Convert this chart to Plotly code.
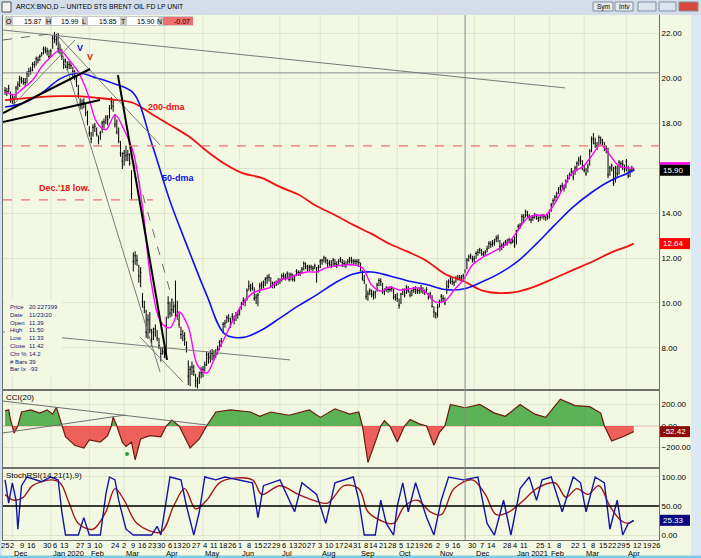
import pandas as pd
import plotly.graph_objects as go
from plotly.subplots import make_subplots

FONT = "Liberation Sans, Arial, sans-serif"
BG = "#F3F8E3"
GRID = "#DEE7CE"

holidays = ["2019-11-28", "2019-12-25", "2020-01-01", "2020-01-20", "2020-02-17",
            "2020-04-10", "2020-05-25", "2020-07-03", "2020-09-07", "2020-11-26",
            "2020-12-25", "2021-01-01", "2021-01-18", "2021-02-15", "2021-04-02"]

# daily bars, BNO, 2019-11-25 .. 2021-04-08 (one row per week)
close = [
    19.45, 19.40, 19.55, 19.00,
    19.10, 19.05, 19.55, 19.70, 19.95,
    19.90, 19.85, 19.80, 20.20, 20.30,
    20.35, 20.60, 20.60, 20.85, 20.80,
    20.95, 21.10, 21.30, 21.25,
    21.20, 20.95, 21.20, 21.75,
    21.85, 21.70, 21.30, 21.25, 20.95,
    20.60, 20.70, 20.50, 20.60, 20.55,
    20.30, 20.05, 19.85, 19.30,
    18.80, 18.85, 18.90, 18.45, 18.05,
    17.55, 17.30, 17.80, 17.85, 17.50,
    17.20, 17.55, 18.00, 18.05, 18.25,
    18.15, 18.65, 18.95, 18.75,
    17.95, 17.60, 17.20, 16.65, 16.30,
    16.65, 16.55, 16.60, 16.20, 14.85,
    11.85, 12.10, 11.90, 11.20, 11.35,
    10.05, 9.80, 8.70, 9.25, 8.80,
    8.40, 8.70, 8.85, 8.45, 8.10,
    7.75, 7.85,
    7.80, 9.00, 10.00,
    9.55, 9.70, 9.85, 9.45,
    9.60, 9.05, 8.60, 8.55, 8.40,
    8.00, 6.75, 7.05, 7.15, 6.95,
    6.55, 6.45, 6.75, 6.90, 7.05,
    7.25, 7.70, 7.55, 7.60, 7.75,
    7.65, 7.80, 7.95, 8.25, 8.30,
    9.05, 9.10, 9.35, 9.30, 9.05,
    9.40, 9.25, 9.45, 9.50,
    9.70, 9.95, 10.10, 10.05, 10.55,
    10.75, 10.65, 10.75, 10.20, 10.25,
    10.35, 10.75, 10.80, 10.90, 11.05,
    11.10, 11.15, 10.75, 10.90, 10.80,
    10.90, 10.95, 11.00, 11.20,
    11.20, 11.15, 11.30, 11.05, 11.25,
    11.05, 11.20, 11.40, 11.35, 11.35,
    11.50, 11.75, 11.65, 11.55, 11.60,
    11.60, 11.55, 11.65, 11.40, 11.60,
    11.85, 11.90, 12.00, 11.90, 11.75,
    11.80, 11.70, 11.90, 11.75, 11.70,
    11.85, 11.95, 11.80, 11.75, 11.70,
    11.85, 11.95, 11.90, 11.85, 11.85,
    11.85, 11.80, 11.45, 11.10, 11.00,
    10.30, 10.40, 10.55, 10.40,
    10.35, 10.45, 10.80, 11.00, 10.95,
    10.50, 10.55, 10.65, 10.60, 10.60,
    10.65, 10.25, 10.30, 10.20, 9.90,
    10.40, 10.60, 10.35, 10.70, 10.55,
    10.35, 10.55, 10.60, 10.60, 10.55,
    10.55, 10.65, 10.55, 10.50, 10.60,
    10.25, 10.40, 9.85, 9.60, 9.50,
    9.80, 10.05, 10.30, 10.20, 10.00,
    10.75, 10.95, 11.10, 10.95, 10.90,
    11.10, 11.10, 11.15, 11.10, 11.20,
    11.42, 11.90, 12.05, 12.10, 11.95,
    11.95, 12.20, 12.25, 12.35,
    12.20, 12.15, 12.25, 12.40, 12.65,
    12.60, 12.65, 12.70, 12.85, 12.90,
    12.50, 12.55, 12.60, 12.70,
    12.65, 12.80, 12.70, 12.75,
    12.55, 13.20, 13.40, 13.45, 13.85,
    13.80, 14.05, 13.90, 13.85, 13.70,
    13.80, 13.90, 13.85, 13.75,
    13.80, 13.90, 13.85, 13.80, 13.85,
    14.05, 14.35, 14.55, 14.70, 14.85,
    15.05, 15.15, 15.20, 15.10, 15.40,
    15.55, 15.70, 15.85, 15.60,
    16.00, 16.20, 16.35, 16.30, 16.00,
    15.90, 15.75, 16.05, 16.75, 17.25,
    17.30, 17.10, 17.00, 17.35, 17.25,
    17.15, 16.95, 16.85, 15.70, 16.00,
    16.10, 15.30, 16.00, 15.75, 16.25,
    16.20, 16.15, 15.95,
    16.30, 15.65, 15.90, 15.97, 15.90,
]
high = [
    19.60, 19.55, 19.70, 19.40,
    19.30, 19.20, 19.65, 19.85, 20.10,
    20.05, 20.00, 20.00, 20.30, 20.45,
    20.50, 20.70, 20.75, 20.95, 20.95,
    21.05, 21.15, 21.40, 21.40,
    21.35, 21.25, 21.30, 21.90,
    22.05, 21.95, 22.00, 21.50, 21.30,
    20.85, 20.85, 20.75, 20.75, 20.70,
    20.50, 20.35, 20.10, 19.70,
    19.10, 19.05, 19.10, 18.85, 18.55,
    17.85, 17.60, 17.95, 18.00, 17.80,
    17.45, 17.65, 18.10, 18.20, 18.35,
    18.35, 18.80, 19.15, 19.00,
    18.40, 18.15, 17.80, 17.20, 16.70,
    16.80, 17.00, 16.80, 16.65, 15.90,
    12.25, 12.30, 12.15, 11.70, 11.60,
    10.45, 10.10, 9.70, 9.50, 9.60,
    8.85, 8.90, 9.05, 8.80, 8.45,
    8.05, 8.05,
    8.00, 9.40, 10.30,
    10.05, 10.20, 10.05, 11.00,
    10.10, 9.55, 8.95, 8.80, 8.70,
    8.30, 7.45, 7.20, 7.40, 7.25,
    6.85, 6.70, 6.95, 7.15, 7.20,
    7.40, 7.85, 7.80, 7.90, 7.95,
    7.90, 7.95, 8.10, 8.35, 8.45,
    9.15, 9.25, 9.45, 9.50, 9.35,
    9.55, 9.45, 9.60, 9.65,
    9.80, 10.05, 10.25, 10.20, 10.65,
    11.00, 10.85, 10.90, 10.70, 10.40,
    10.45, 10.90, 10.95, 11.00, 11.15,
    11.25, 11.30, 11.15, 10.95, 10.95,
    11.00, 11.10, 11.10, 11.30,
    11.35, 11.30, 11.40, 11.35, 11.35,
    11.30, 11.25, 11.50, 11.45, 11.45,
    11.60, 11.85, 11.80, 11.70, 11.70,
    11.70, 11.65, 11.75, 11.60, 11.70,
    11.95, 11.95, 12.10, 12.05, 11.95,
    11.90, 11.90, 12.00, 11.95, 11.85,
    11.95, 12.05, 11.95, 11.90, 11.85,
    11.95, 12.05, 12.05, 11.95, 11.95,
    11.95, 11.95, 11.80, 11.45, 11.25,
    10.85, 10.55, 10.65, 10.60,
    10.55, 10.55, 10.90, 11.10, 11.10,
    10.90, 10.65, 10.75, 10.70, 10.70,
    10.75, 10.65, 10.40, 10.45, 10.20,
    10.45, 10.65, 10.65, 10.80, 10.75,
    10.55, 10.60, 10.70, 10.75, 10.65,
    10.70, 10.80, 10.70, 10.60, 10.70,
    10.45, 10.50, 10.35, 9.85, 9.60,
    9.95, 10.15, 10.40, 10.35, 10.25,
    11.00, 11.05, 11.20, 11.10, 11.00,
    11.20, 11.25, 11.25, 11.25, 11.30,
    11.50, 12.00, 12.15, 12.20, 12.10,
    12.10, 12.30, 12.40, 12.45,
    12.40, 12.30, 12.35, 12.55, 12.75,
    12.75, 12.80, 12.85, 13.00, 13.05,
    12.80, 12.65, 12.70, 12.80,
    12.85, 12.90, 12.85, 12.85,
    12.95, 13.25, 13.50, 13.55, 13.95,
    13.95, 14.15, 14.10, 13.95, 13.85,
    13.90, 14.00, 13.95, 13.85,
    13.90, 13.95, 13.95, 13.90, 13.95,
    14.15, 14.45, 14.65, 14.80, 14.95,
    15.15, 15.25, 15.35, 15.25, 15.50,
    15.70, 15.80, 16.00, 15.90,
    16.10, 16.30, 16.50, 16.55, 16.35,
    16.15, 16.00, 16.20, 16.85, 17.40,
    17.55, 17.35, 17.15, 17.45, 17.40,
    17.30, 17.15, 17.00, 16.90, 16.10,
    16.20, 16.05, 16.10, 16.10, 16.35,
    16.30, 16.35, 16.15,
    16.40, 16.10, 15.95, 16.10, 15.99,
]
low = [
    19.25, 19.20, 19.35, 18.90,
    18.85, 18.80, 19.10, 19.45, 19.60,
    19.75, 19.70, 19.60, 19.75, 20.05,
    20.15, 20.30, 20.45, 20.55, 20.65,
    20.75, 20.95, 21.05, 21.10,
    21.00, 20.85, 20.95, 21.30,
    21.55, 21.45, 21.10, 21.05, 20.80,
    20.40, 20.45, 20.35, 20.40, 20.40,
    20.00, 19.90, 19.60, 19.10,
    18.60, 18.60, 18.65, 18.30, 17.90,
    17.40, 17.10, 17.40, 17.60, 17.40,
    17.05, 17.25, 17.55, 17.75, 17.95,
    17.90, 18.20, 18.60, 18.50,
    17.80, 17.50, 17.10, 16.50, 15.95,
    16.10, 16.30, 16.30, 16.10, 14.60,
    11.40, 11.70, 11.65, 10.90, 10.70,
    9.80, 9.55, 8.45, 8.40, 8.65,
    8.05, 8.35, 8.50, 8.30, 7.95,
    7.40, 7.70,
    7.55, 7.55, 9.30,
    9.35, 9.40, 9.55, 9.30,
    9.25, 8.90, 8.40, 8.30, 8.10,
    7.80, 6.35, 6.30, 6.80, 6.75,
    6.25, 6.20, 6.40, 6.65, 6.70,
    6.95, 7.20, 7.30, 7.35, 7.45,
    7.45, 7.55, 7.70, 7.90, 8.05,
    8.65, 8.90, 9.10, 9.15, 8.90,
    9.15, 9.05, 9.20, 9.30,
    9.45, 9.70, 9.90, 9.85, 10.10,
    10.55, 10.50, 10.55, 10.10, 9.95,
    9.85, 10.45, 10.60, 10.65, 10.75,
    10.85, 10.95, 10.70, 10.65, 10.65,
    10.75, 10.80, 10.85, 10.95,
    11.05, 11.00, 11.10, 10.95, 11.00,
    10.95, 10.95, 11.20, 11.20, 11.20,
    11.30, 11.45, 11.50, 11.40, 11.40,
    11.45, 11.40, 11.50, 10.90, 11.35,
    11.55, 11.70, 11.80, 11.75, 11.60,
    11.65, 11.55, 11.65, 11.60, 11.55,
    11.70, 11.80, 11.60, 11.60, 11.55,
    11.70, 11.75, 11.75, 11.70, 11.70,
    11.70, 11.60, 11.40, 11.00, 10.85,
    10.15, 10.10, 10.35, 10.25,
    10.15, 10.20, 10.50, 10.75, 10.75,
    10.40, 10.35, 10.50, 10.45, 10.50,
    10.50, 10.15, 10.10, 10.05, 9.75,
    9.95, 10.35, 10.25, 10.40, 10.45,
    10.25, 10.30, 10.45, 10.40, 10.40,
    10.40, 10.45, 10.40, 10.35, 10.45,
    10.15, 10.20, 9.80, 9.35, 9.30,
    9.35, 9.80, 10.00, 10.05, 9.90,
    10.40, 10.65, 10.85, 10.80, 10.75,
    10.90, 11.00, 11.00, 11.00, 11.05,
    11.33, 11.50, 11.85, 11.95, 11.80,
    11.80, 11.95, 12.10, 12.20,
    12.10, 12.05, 12.10, 12.25, 12.40,
    12.45, 12.50, 12.55, 12.70, 12.70,
    12.30, 12.35, 12.45, 12.55,
    12.55, 12.65, 12.60, 12.65,
    12.45, 12.60, 13.20, 13.30, 13.50,
    13.55, 13.80, 13.80, 13.65, 13.55,
    13.65, 13.75, 13.70, 13.60,
    13.65, 13.75, 13.70, 13.65, 13.70,
    13.75, 14.05, 14.35, 14.50, 14.65,
    14.85, 14.95, 15.05, 14.95, 15.10,
    15.35, 15.50, 15.65, 15.45,
    15.70, 15.85, 16.10, 16.15, 15.90,
    15.80, 15.65, 15.80, 16.10, 16.70,
    17.05, 16.90, 16.80, 17.00, 17.05,
    16.95, 16.75, 16.65, 15.55, 15.65,
    15.85, 15.20, 15.35, 15.55, 15.70,
    16.00, 15.90, 15.80,
    15.85, 15.55, 15.60, 15.80, 15.85,
]

# moving averages: (bar number, value)
ma_fast_bar = [0, 5, 10, 15, 20, 25, 30, 35, 40, 45, 50, 55, 60, 65, 70, 75, 80, 85, 90,
               95, 100, 105, 110, 115, 120, 125, 130, 135, 140, 145, 150, 155, 160, 165,
               170, 175, 180, 185, 190, 195, 200, 205, 210, 215, 220, 225, 230, 235, 240,
               245, 250, 255, 260, 265, 270, 275, 280, 285, 290, 295, 300, 305, 310, 315,
               320, 325, 330, 335, 340, 343]
ma_fast = [19.40, 19.25, 19.55, 19.90, 20.50, 20.93, 21.24, 20.80, 20.27, 19.33, 18.04,
           17.70, 18.36, 17.69, 16.70, 14.27, 10.80, 9.16, 8.90, 9.60, 8.93, 7.24, 6.89,
           7.69, 8.49, 9.33, 10.00, 10.44, 10.58, 10.71, 11.02, 11.11, 11.29, 11.38,
           11.38, 11.56, 11.64, 11.69, 11.69, 11.56, 10.80, 10.53, 10.71, 10.58, 10.62,
           10.67, 10.44, 10.04, 10.09, 10.58, 11.02, 11.69, 12.00, 12.22, 12.44, 12.71,
           13.24, 13.78, 13.91, 13.91, 14.44, 15.20, 15.82, 16.04, 16.53, 17.02, 16.58,
           16.09, 16.00, 16.00]
ma50_bar = [0, 10, 20, 30, 40, 50, 60, 70, 80, 90, 100, 110, 120, 130, 140, 150, 160, 170,
            180, 190, 200, 210, 220, 230, 240, 250, 260, 270, 280, 290, 300, 310, 320, 330,
            340, 343]
ma50 = [18.71, 18.89, 19.33, 19.96, 20.22, 20.00, 19.73, 19.33, 17.10, 14.53, 12.40, 10.36,
        8.62, 8.47, 8.80, 9.33, 9.87, 10.36, 10.89, 11.29, 11.38, 11.20, 10.98, 10.82,
        10.60, 10.62, 10.93, 11.33, 11.87, 12.64, 13.47, 14.27, 14.91, 15.42, 15.78, 15.91]
ma200 = [19.02, 19.09, 19.16, 19.19, 19.19, 19.12, 19.03, 18.89, 18.40, 17.91, 17.42,
         16.76, 16.18, 15.76, 15.56, 15.16, 14.82, 14.31, 13.91, 13.47, 13.07, 12.62,
         12.27, 11.87, 11.29, 10.98, 10.56, 10.44, 10.51, 10.76, 11.11, 11.47, 11.82,
         12.22, 12.53, 12.64]

# CCI(20) turning points: (bar number, value)
cci_bar = [0, 2, 3, 4, 5, 7, 9, 14, 19, 23, 26, 28, 31, 33, 38, 43, 46, 52, 56, 58, 59, 61,
           64, 66, 69, 71, 74, 79, 85, 88, 91, 95, 101, 106, 110, 115, 123, 134, 139, 145,
           155, 166, 172, 180, 188, 193, 195, 198, 202, 205, 207, 210, 214, 218, 221, 226,
           230, 234, 237, 240, 243, 251, 259, 267, 273, 281, 289, 295, 303, 311, 319, 325,
           327, 331, 337, 343]
cci = [140, 150, 60, 0, -65, 0, 130, 150, 120, 150, 110, 175, 0, -100, -180, -205, -130,
       -150, -90, 0, 85, 0, -150, -190, -150, -316, -120, -90, -100, 0, 56, 0, -205, -120,
       0, 130, 150, 130, 90, 130, 100, 150, 80, 160, 110, 130, 0, -340, -150, 0, 50, 0,
       -150, 0, 60, 20, 0, -180, -60, 0, 200, 170, 200, 120, 90, 200, 110, 80, 250, 190,
       180, 120, 0, -140, -100, -52.42]

# StochRSI turning points: (bar number, value)
srsi_bar = [0, 2, 4, 6, 7, 9, 12, 20, 25, 29, 31, 33, 40, 43, 46, 52, 55, 57, 60, 62, 66,
            70, 80, 83, 85, 88, 90, 96, 99, 103, 106, 109, 115, 120, 135, 138, 141, 150,
            158, 162, 170, 175, 180, 190, 193, 196, 202, 205, 208, 212, 214, 217, 220, 224,
            230, 234, 238, 242, 250, 258, 263, 267, 272, 276, 281, 286, 290, 293, 298, 304,
            310, 314, 317, 322, 327, 330, 334, 337, 340, 343]
srsi = [95, 55, 90, 60, 10, 85, 100, 92, 100, 95, 40, 0, 0, 30, 0, 0, 70, 100, 95, 60, 10,
        0, 0, 15, 0, 60, 100, 95, 50, 0, 40, 100, 95, 100, 90, 30, 85, 95, 40, 90, 70, 20,
        90, 100, 60, 0, 0, 60, 20, 0, 50, 90, 40, 90, 30, 0, 60, 100, 95, 100, 20, 0, 60,
        0, 80, 100, 60, 95, 100, 40, 100, 90, 40, 100, 90, 10, 60, 0, 20, 25.33]
srsi_sig_bar = [0, 5, 10, 15, 25, 30, 35, 40, 48, 55, 60, 65, 72, 85, 92, 98, 104, 110,
                118, 135, 140, 150, 160, 168, 176, 185, 193, 198, 205, 212, 218, 225, 232,
                238, 245, 255, 262, 268, 275, 283, 290, 300, 306, 312, 318, 324, 330, 336,
                340, 343]
srsi_sig = [70, 60, 65, 85, 95, 90, 55, 20, 10, 40, 80, 60, 20, 5, 50, 80, 45, 60, 92, 95,
            70, 85, 70, 60, 55, 85, 80, 40, 25, 20, 50, 60, 40, 35, 80, 95, 70, 35, 40, 60,
            80, 90, 65, 80, 70, 85, 50, 25, 20, 25]

# hand drawn trend lines: (bar0, price0, bar1, price1)
trend_gray = [(-1.1, 22.13, 305.5, 19.56), (28.4, 21.91, 84.6, 17.02),
              (28.4, 21.85, 84.6, 6.93), (73.6, 8.49, 97.1, 6.49),
              (-1.1, 8.71, 155.5, 7.47), (4.4, 18.80, 38.2, 21.69)]
trend_dash = [(-1.1, 21.69, 28.4, 22.00), (69.8, 16.36, 97.1, 8.49)]
trend_black = [(-1.1, 18.44, 46.4, 20.40), (-1.1, 18.04, 51.8, 19.02),
               (61.6, 20.13, 88.4, 7.47)]
resistance = 16.98
dec18_low = 14.58
dec18_end = 80.7
cci_lines = [(-1.1, 232, 110.2, 9), (-1.1, -65, 65.5, 102)]

price_ticks = [8, 10, 12, 14, 16, 18, 20, 22]
price_text = ["8.00", "10.00", "12.00", "14.00", "", "18.00", "20.00", "22.00"]
cci_ticks = [-200, 0, 200]
srsi_ticks = [0, 50, 100]

tick_dates = ["2019-11-25", "2019-12-02", "2019-12-09", "2019-12-16", "2019-12-30",
              "2020-01-06", "2020-01-13", "2020-01-27", "2020-02-03", "2020-02-10",
              "2020-02-24", "2020-03-02", "2020-03-09", "2020-03-16", "2020-03-23",
              "2020-03-30", "2020-04-06", "2020-04-13", "2020-04-20", "2020-04-27",
              "2020-05-04", "2020-05-11", "2020-05-18", "2020-05-26", "2020-06-01",
              "2020-06-08", "2020-06-15", "2020-06-22", "2020-06-29", "2020-07-06",
              "2020-07-13", "2020-07-20", "2020-07-27", "2020-08-03", "2020-08-10",
              "2020-08-17", "2020-08-24", "2020-08-31", "2020-09-08", "2020-09-14",
              "2020-09-21", "2020-09-28", "2020-10-05", "2020-10-12", "2020-10-19",
              "2020-10-26", "2020-11-02", "2020-11-09", "2020-11-16", "2020-11-30",
              "2020-12-07", "2020-12-14", "2020-12-28", "2021-01-04", "2021-01-11",
              "2021-01-25", "2021-02-01", "2021-02-08", "2021-02-22", "2021-03-01",
              "2021-03-08", "2021-03-15", "2021-03-22", "2021-03-29", "2021-04-05",
              "2021-04-12", "2021-04-19", "2021-04-26"]
month_starts = ["2019-12-02", "2020-01-02", "2020-02-03", "2020-03-02", "2020-04-01",
                "2020-05-01", "2020-06-01", "2020-07-01", "2020-08-03", "2020-09-01",
                "2020-10-01", "2020-11-02", "2020-12-01", "2021-01-04", "2021-02-01",
                "2021-03-01", "2021-04-01"]
month_names = ["Dec", "Jan 2020", "Feb", "Mar", "Apr", "May", "Jun", "Jul", "Aug", "Sep",
               "Oct", "Nov", "Dec", "Jan 2021", "Feb", "Mar", "Apr"]
cursor_date = "2020-11-23"
cursor_price = 20.227399

header_keys = ["O", "H", "L", "T", "N"]
header_vals = ["15.87", "15.99", "15.85", "15.90", "-0.07"]
info_keys = ["Price", "Date", "Open", "High", "Low", "Close", "Chr %", "# Bars", "Bar Ix"]
info_vals = ["20.227399", "11/23/20", "11.39", "11.50", "11.33", "11.42", "14.2", "39", "-93"]

days = pd.bdate_range("2019-11-25", "2021-04-30")
days = days[~days.isin(pd.to_datetime(holidays))]
pos = {d.strftime("%Y-%m-%d"): i for i, d in enumerate(days)}
bars = list(range(len(close)))


def px_x(px):
    return (px - 3) / 656


def px_y(py):
    return (540 - py) / 525


def label(fig, x, y, text, size=8, color="black", xanchor="center", **kw):
    # paper/axis text with a fixed middle anchor
    fig.add_annotation(x=x, y=y, text=text, showarrow=False, xanchor=xanchor,
                       yanchor="middle", font=dict(size=size, color=color, family=FONT),
                       **kw)


fig = make_subplots(rows=3, cols=1, shared_xaxes=True, vertical_spacing=0,
                    row_heights=[375, 78, 72])

fig.add_trace(go.Scatter(x=ma50_bar, y=ma200, mode="lines", line_shape="spline",
                         line=dict(color="#F01010", width=1.8)), row=1, col=1)
fig.add_trace(go.Scatter(x=ma50_bar, y=ma50, mode="lines", line_shape="spline",
                         line=dict(color="#1010F0", width=1.6)), row=1, col=1)
fig.add_trace(go.Ohlc(x=bars, open=close, high=high, low=low, close=close,
                      increasing_line_color="black", decreasing_line_color="black",
                      line_width=1, tickwidth=0.4), row=1, col=1)
fig.add_trace(go.Scatter(x=ma_fast_bar, y=ma_fast, mode="lines", line_shape="spline",
                         line=dict(color="#FF00FF", width=1.4)), row=1, col=1)

cci_up = [max(v, 0) for v in cci]
cci_dn = [min(v, 0) for v in cci]
fig.add_trace(go.Scatter(x=cci_bar, y=cci_up, mode="lines", fill="tozeroy",
                         fillcolor="rgba(40,155,40,0.75)", line=dict(width=0)), row=2, col=1)
fig.add_trace(go.Scatter(x=cci_bar, y=cci_dn, mode="lines", fill="tozeroy",
                         fillcolor="rgba(235,45,45,0.75)", line=dict(width=0)), row=2, col=1)
fig.add_trace(go.Scatter(x=cci_bar, y=cci, mode="lines",
                         line=dict(color="#6A1A10", width=1.2)), row=2, col=1)

fig.add_trace(go.Scatter(x=srsi_sig_bar, y=srsi_sig, mode="lines", line_shape="spline",
                         line=dict(color="#A01818", width=1.4)), row=3, col=1)
fig.add_trace(go.Scatter(x=srsi_bar, y=srsi, mode="lines",
                         line=dict(color="#1414A8", width=1.4)), row=3, col=1)

# month grid
for d in month_starts:
    fig.add_shape(type="line", x0=pos[d], x1=pos[d], y0=0, y1=1, xref="x", yref="paper",
                  line=dict(color=GRID, width=1), layer="below")

# crosshair
fig.add_shape(type="line", x0=pos[cursor_date], x1=pos[cursor_date], y0=0, y1=1,
              xref="x", yref="paper", line=dict(color="#8A8A8A", width=1))
fig.add_shape(type="line", x0=0, x1=1, y0=cursor_price, y1=cursor_price, xref="x domain",
              yref="y", line=dict(color="#8A8A8A", width=1))

for x0, y0, x1, y1 in trend_gray:
    fig.add_shape(type="line", x0=x0, y0=y0, x1=x1, y1=y1, xref="x", yref="y",
                  line=dict(color="#7A7A7A", width=1))
for x0, y0, x1, y1 in trend_dash:
    fig.add_shape(type="line", x0=x0, y0=y0, x1=x1, y1=y1, xref="x", yref="y",
                  line=dict(color="#6A6A6A", width=1, dash="dash"))
for x0, y0, x1, y1 in trend_black:
    fig.add_shape(type="line", x0=x0, y0=y0, x1=x1, y1=y1, xref="x", yref="y",
                  line=dict(color="black", width=2))
fig.add_shape(type="line", x0=0, x1=1, y0=resistance, y1=resistance, xref="x domain",
              yref="y", line=dict(color="#F07070", width=1.3, dash="dash"))
fig.add_shape(type="line", x0=-1.1, x1=dec18_end, y0=dec18_low, y1=dec18_low, xref="x",
              yref="y", line=dict(color="#F07070", width=1.3, dash="dash"))

for x0, y0, x1, y1 in cci_lines:
    fig.add_shape(type="line", x0=x0, y0=y0, x1=x1, y1=y1, xref="x2", yref="y2",
                  line=dict(color="#707070", width=1))
fig.add_shape(type="line", x0=0, x1=1, y0=0, y1=0, xref="x2 domain", yref="y2",
              line=dict(color="#F4A0A0", width=1), layer="below")
fig.add_trace(go.Scatter(x=[66.6], y=[-260], mode="markers",
                         marker=dict(color="#20A040", size=4)), row=2, col=1)
fig.add_shape(type="line", x0=0, x1=1, y0=50, y1=50, xref="x3 domain", yref="y3",
              line=dict(color="black", width=1.5))

# labels on the price panel
notes = [("200-dma", 88.4, 18.71, "#E81010"), ("50-dma", 94.9, 15.56, "#1010E0"),
         ("Dec.'18 low.", 32.7, 15.11, "#E81010"), ("V", 40.9, 21.33, "#1010E0"),
         ("V", 46.4, 20.93, "#E81010")]
for txt, xv, yv, col in notes:
    label(fig, xv, yv, "<b>%s</b>" % txt, size=9, color=col, xref="x", yref="y")

# info box
fig.add_shape(type="rect", x0=px_x(5), x1=px_x(62), y0=px_y(377), y1=px_y(299),
              xref="paper", yref="paper", fillcolor=BG, line_width=0)
for k, (a, b) in enumerate(zip(info_keys, info_vals)):
    yy = px_y(307 + k * 7.8)
    label(fig, px_x(8), yy, a, size=6, color="#202070", xanchor="left",
          xref="paper", yref="paper")
    label(fig, px_x(27), yy, b, size=6, color="#202070", xanchor="left",
          xref="paper", yref="paper")

# right side value boxes
boxes = [("y", close[-1], 0.244, "black"), ("y", ma200[-1], 0.244, "#FF0000"),
         ("y2", cci[-1], 51, "#8E0A0A"), ("y3", srsi[-1], 9.5, "#0A0A80")]
fig.add_shape(type="rect", x0=px_x(660), x1=px_x(690), y0=close[-1] + 0.244,
              y1=close[-1] + 0.36, xref="paper", yref="y", fillcolor="#FF00FF", line_width=0)
for yr, v, hh, col in boxes:
    fig.add_shape(type="rect", x0=px_x(660), x1=px_x(690), y0=v - hh, y1=v + hh,
                  xref="paper", yref=yr, fillcolor=col, line_width=0)
    label(fig, px_x(661), v, "%.2f" % v, color="white", xanchor="left",
          xref="paper", yref=yr)

# panel titles
label(fig, px_x(4), px_y(398), "CCI(20)", xanchor="left", xref="paper", yref="paper")
label(fig, px_x(4), px_y(475), "StochRSI(14,21(1),9)", xanchor="left",
      xref="paper", yref="paper")

# date axis: day numbers and month names
for d in tick_dates:
    label(fig, pos[d], px_y(545), str(int(d[-2:])), size=7.5, xref="x3", yref="paper")
for d, name in zip(month_starts, month_names):
    label(fig, pos[d], px_y(553), name, size=7.5, xanchor="left", xref="x3", yref="paper")

# window chrome: title bar, borders and quote strip
fig.add_shape(type="rect", x0=px_x(0), x1=px_x(701), y0=px_y(15), y1=px_y(0), xref="paper",
              yref="paper", fillcolor="#D3DDEA", line_width=0)
fig.add_shape(type="rect", x0=px_x(691), x1=px_x(701), y0=px_y(558), y1=px_y(15),
              xref="paper", yref="paper", fillcolor="#DCE8F4", line_width=0)
fig.add_shape(type="rect", x0=px_x(0), x1=px_x(2), y0=px_y(558), y1=px_y(15),
              xref="paper", yref="paper", fillcolor="#CFE0F0", line_width=0)
fig.add_shape(type="rect", x0=px_x(0), x1=px_x(701), y0=px_y(558), y1=px_y(555.5),
              xref="paper", yref="paper", fillcolor="#7CCDE6", line_width=0)
label(fig, px_x(14), px_y(7), "ARCX:BNO,D -- UNITED STS BRENT OIL FD LP UNIT", size=6.8,
      xanchor="left", xref="paper", yref="paper")
fig.add_shape(type="rect", x0=px_x(2), x1=px_x(11), y0=px_y(12), y1=px_y(2), xref="paper",
              yref="paper", fillcolor="#F0F0F0", line=dict(color="#505050", width=1))
for x0, x1, col in [(593, 613, "#E6E6E6"), (615, 633, "#E6E6E6"), (638, 656, "#DCE4EE"),
                    (659, 676, "#DCE4EE"), (679, 698, "#D8483A")]:
    fig.add_shape(type="rect", x0=px_x(x0), x1=px_x(x1), y0=px_y(11), y1=px_y(2),
                  xref="paper", yref="paper", fillcolor=col,
                  line=dict(color="#8090A0", width=1))
for x0, txt in [(603, "Sym"), (624, "Intv")]:
    label(fig, px_x(x0), px_y(6.5), txt, size=6.5, xref="paper", yref="paper")

fig.add_shape(type="rect", x0=px_x(5), x1=px_x(193), y0=px_y(26), y1=px_y(16),
              xref="paper", yref="paper", fillcolor="#C8C8C8", line_width=0)
cells = [(13, 45), (52, 82), (88, 120), (127, 158), (163, 193)]
for (x0, x1), k, v in zip(cells, header_keys, header_vals):
    fill = "#F07070" if k == "N" else "white"
    fig.add_shape(type="rect", x0=px_x(x0), x1=px_x(x1), y0=px_y(25), y1=px_y(17),
                  xref="paper", yref="paper", fillcolor=fill, line_width=0)
    label(fig, px_x(x0 - 4), px_y(21), k, size=7, xref="paper", yref="paper")
    label(fig, px_x(x1 - 1), px_y(21), v, size=7, xanchor="right",
          xref="paper", yref="paper")

fig.update_layout(width=701, height=558, margin=dict(l=3, r=42, t=15, b=18),
                  paper_bgcolor=BG, plot_bgcolor=BG, showlegend=False, hovermode=False,
                  font=dict(family=FONT, size=8, color="black"))
fig.update_xaxes(range=[-1.1, 356.8], showgrid=False, zeroline=False, showline=True,
                 mirror=True, linecolor="#707070", linewidth=1, ticks="",
                 rangeslider_visible=False, showticklabels=False)
fig.update_yaxes(side="right", showgrid=True, gridcolor=GRID, zeroline=False, showline=True,
                 mirror=True, linecolor="#707070", linewidth=1, ticks="",
                 tickfont=dict(size=8, family=FONT), tickformat=".2f")
fig.update_yaxes(row=1, col=1, range=[6.133, 22.8], tickvals=price_ticks, ticktext=price_text)
fig.update_yaxes(row=2, col=1, range=[-391, 335], tickvals=cci_ticks)
fig.update_yaxes(row=3, col=1, range=[-8.6, 115.5], tickvals=srsi_ticks)

fig.write_html("out.html", config={"displayModeBar": False},
               post_script="document.body.style.margin='0';"
                           "document.body.style.overflow='hidden';")
